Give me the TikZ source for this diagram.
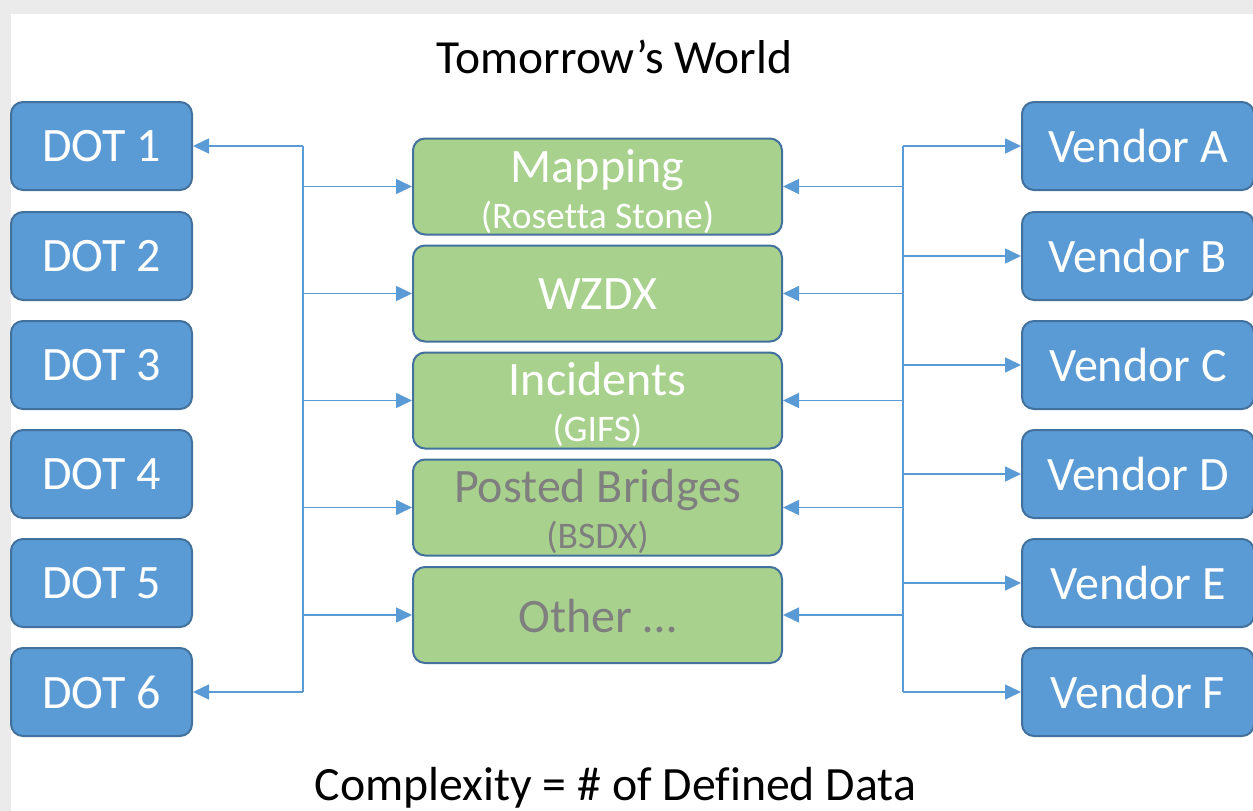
\documentclass[tikz,border=0pt]{standalone}
\usepackage{fontspec}
\setmainfont{Carlito}[Ligatures=NoCommon]
\usetikzlibrary{arrows.meta}
\definecolor{bluefill}{HTML}{5B9BD5}
\definecolor{boxedge}{HTML}{41719C}
\definecolor{greenfill}{HTML}{A9D18E}
\definecolor{bgray}{HTML}{EBEBEB}
\definecolor{txtgray}{HTML}{7F7F7F}
\definecolor{linec}{HTML}{5B9BD5}
\begin{document}
\begin{tikzpicture}[x=1pt,y=-1pt,
  bigfont/.style={font=\fontsize{48}{52}\selectfont},
  subfont/.style={font=\fontsize{37.5}{40}\selectfont},
  bluebox/.style={draw=boxedge, line width=2pt, fill=bluefill, rounded corners=12pt,
    minimum height=88pt, inner sep=0pt, text=white, bigfont},
  dotbox/.style={bluebox, minimum width=181pt},
  vendbox/.style={bluebox, minimum width=232pt},
  greenbox/.style={draw=boxedge, line width=2pt, fill=greenfill, rounded corners=12pt,
    minimum width=369pt, minimum height=96pt, inner sep=0pt},
  maintxt/.style={anchor=base, inner sep=0pt, bigfont},
  subtxt/.style={anchor=base, inner sep=0pt, subfont},
  wire/.style={draw=linec, line width=1.6pt},
  arr/.style={wire, -{Triangle[length=16pt,width=15pt]}}
]
\useasboundingbox (0,0) rectangle (1253,811);
\fill[bgray] (0,0) rectangle (1253,811);
\fill[white] (11,14) rectangle (1253,811);

% title and footer
\node[maintxt, font=\fontsize{47.5}{50}\selectfont] (title) at (614.5,73) {Tomorrow’s World};
\node[maintxt, font=\fontsize{47.8}{50}\selectfont] (footer) at (615.5,800) {Complexity = \# of Defined Data};

% DOT boxes
\node[dotbox] (dot1) at (101.5,146) {DOT 1};
\node[dotbox] (dot2) at (101.5,256) {DOT 2};
\node[dotbox] (dot3) at (101.5,365) {DOT 3};
\node[dotbox] (dot4) at (101.5,474) {DOT 4};
\node[dotbox] (dot5) at (101.5,583) {DOT 5};
\node[dotbox] (dot6) at (101.5,692) {DOT 6};

% Vendor boxes
\node[vendbox] (venA) at (1138,146) {Vendor A};
\node[vendbox] (venB) at (1138,256) {Vendor B};
\node[vendbox] (venC) at (1138,365) {Vendor C};
\node[vendbox] (venD) at (1138,474) {Vendor D};
\node[vendbox] (venE) at (1138,583) {Vendor E};
\node[vendbox] (venF) at (1138,692) {Vendor F};

% green boxes
\node[greenbox] (g1) at (597.5,186.5) {};
\node[greenbox] (g2) at (597.5,293.5) {};
\node[greenbox] (g3) at (597.5,400.5) {};
\node[greenbox] (g4) at (597.5,507.5) {};
\node[greenbox] (g5) at (597.5,615) {};

\node[maintxt, text=white] (t1) at (597.5,182) {Mapping};
\node[subtxt, text=white] (s1) at (597.5,228) {(Rosetta Stone)};
\node[maintxt, text=white] (t2) at (597.5,309) {WZDX};
\node[maintxt, text=white] (t3) at (597.5,395) {Incidents};
\node[subtxt, text=white] (s3) at (597.5,441) {(GIFS)};
\node[maintxt, text=txtgray] (t4) at (597.5,502) {Posted Bridges};
\node[subtxt, text=txtgray] (s4) at (597.5,548) {(BSDX)};
\node[maintxt, text=txtgray] (t5) at (597.5,632) {Other …};

% left bus
\coordinate (ltop) at (303,146);
\coordinate (lbot) at (303,692);
\draw[wire] (ltop) -- (lbot);
\draw[arr] (ltop) -- (dot1.east);
\draw[arr] (lbot) -- (dot6.east);
\foreach \g in {g1,g2,g3,g4,g5}
  \draw[arr] (ltop |- \g.west) -- (\g.west);

% right bus
\coordinate (rtop) at (903,146);
\coordinate (rbot) at (903,692);
\draw[wire] (rtop) -- (rbot);
\foreach \v in {venA,venB,venC,venD,venE,venF}
  \draw[arr] (rtop |- \v.west) -- (\v.west);
\foreach \g in {g1,g2,g3,g4,g5}
  \draw[arr] (rtop |- \g.east) -- (\g.east);
\end{tikzpicture}
\end{document}
